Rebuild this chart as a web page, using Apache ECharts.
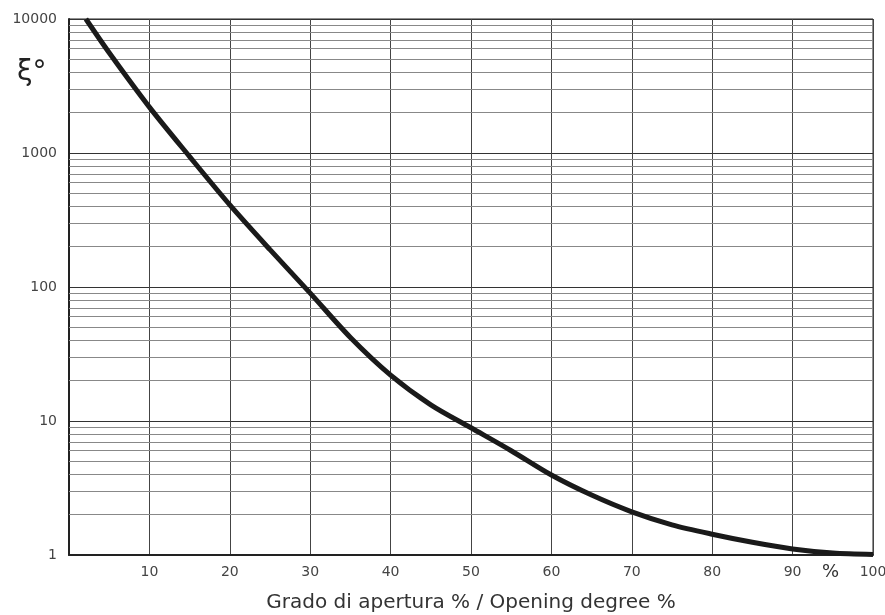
<!DOCTYPE html>
<html>
<head>
<meta charset="utf-8">
<script src="https://cdn.jsdelivr.net/npm/echarts@6/dist/echarts.min.js"></script>
<style>html,body{margin:0;padding:0;background:#fff}#c{width:885px;height:615px}</style>
</head>
<body>
<div id="c"></div>
<script>
// Data
const openingPct = [2.1, 5, 10, 15, 20, 25, 30, 35, 40, 45, 50, 55, 60, 65, 70, 75, 80, 85, 90, 95, 100];
const xiValues   = [10000, 5600, 2200, 940, 410, 190, 90, 42, 22, 13.2, 8.9, 6.0, 3.95, 2.8, 2.1, 1.68, 1.43, 1.245, 1.11, 1.035, 1.01];
const yDecades = [1, 10, 100, 1000, 10000];
const minorMultipliers = [2, 3, 4, 5, 6, 7, 8, 9];
const xTicks = [10, 20, 30, 40, 50, 60, 70, 80, 90, 100];
const xAxisTitle = 'Grado di apertura % / Opening degree %';
const yAxisTitle = 'ξ°';

const FONT = 'DejaVu Sans';
const minorLines = [];
yDecades.slice(0, -1).forEach(d => minorMultipliers.forEach(m => minorLines.push({ yAxis: d * m })));

const chart = echarts.init(document.getElementById('c'), null, { renderer: 'canvas' });
chart.setOption({
  animation: false,
  backgroundColor: '#fff',
  grid: {
    left: 69, right: 12, top: 19, bottom: 60, containLabel: false, outerBoundsMode: 'none',
    show: true, borderColor: '#222', borderWidth: 1
  },
  xAxis: {
    type: 'value', min: 0, max: 100, interval: 10,
    axisLine: { show: true, onZero: false, lineStyle: { color: '#222', width: 2 } },
    axisTick: { show: false },
    axisLabel: {
      margin: 10, color: '#444', fontFamily: FONT, fontSize: 14,
      formatter: v => (xTicks.indexOf(v) >= 0 ? String(v) : '')
    },
    splitLine: { show: true, lineStyle: { color: '#444', width: 1 } },
    name: xAxisTitle, nameLocation: 'middle', nameGap: 38,
    nameTextStyle: { color: '#333', fontFamily: FONT, fontSize: 20 }
  },
  yAxis: {
    type: 'log', logBase: 10, min: 1, max: 10000,
    axisLine: { show: true, lineStyle: { color: '#222', width: 2 } },
    axisTick: { show: false },
    axisLabel: { margin: 12, color: '#444', fontFamily: FONT, fontSize: 14, formatter: v => String(v) },
    splitLine: { show: true, lineStyle: { color: '#333', width: 1 } }
  },
  graphic: [
    { type: 'text', left: 17, top: 59, style: { text: yAxisTitle, fontFamily: FONT, fontSize: 28, fill: '#222' } },
    { type: 'text', left: 822, top: 563, style: { text: '%', fontFamily: FONT, fontSize: 18, fill: '#333' } }
  ],
  series: [{
    type: 'line',
    data: openingPct.map((x, i) => [x, xiValues[i]]),
    smooth: 0.3,
    showSymbol: false,
    lineStyle: { color: '#1a1a1a', width: 5 },
    z: 5,
    markLine: {
      silent: true, symbol: 'none', label: { show: false },
      lineStyle: { color: '#888', width: 1, type: 'solid' },
      data: minorLines, z: 1
    }
  }]
});
</script>
</body>
</html>
